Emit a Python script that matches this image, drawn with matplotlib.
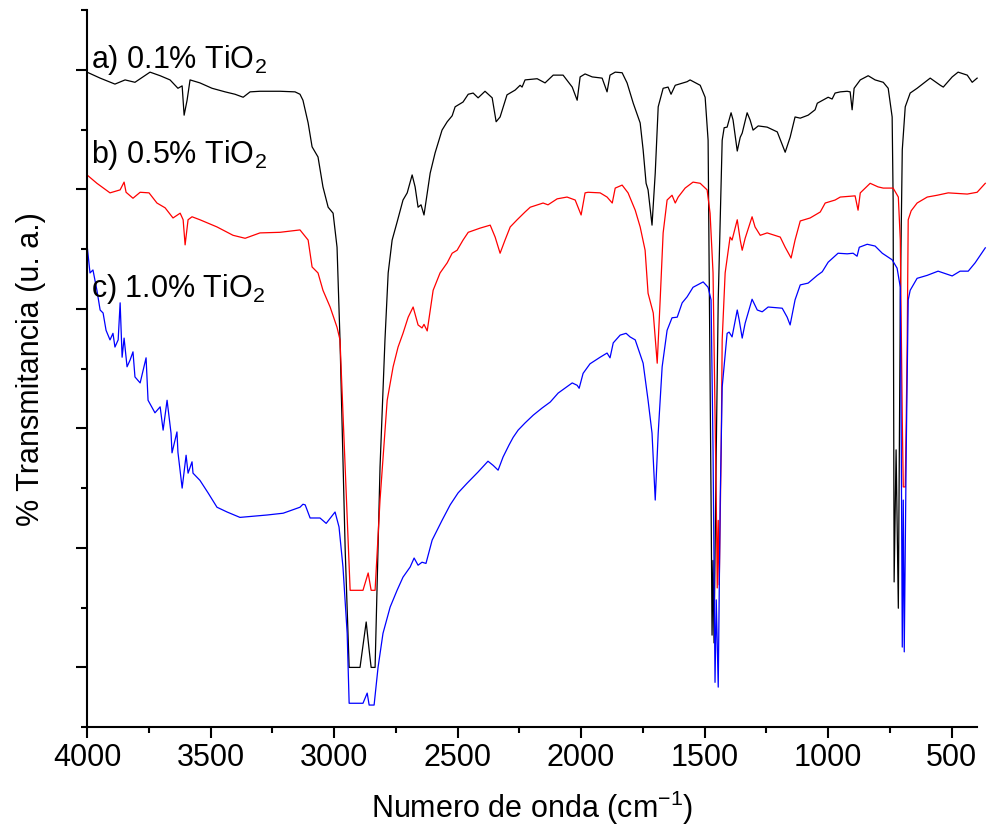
import matplotlib
matplotlib.use("Agg")
import matplotlib.pyplot as plt
from matplotlib.ticker import MultipleLocator, FixedLocator, NullFormatter

plt.rcParams['font.family'] = ['Liberation Sans', 'DejaVu Sans']
plt.rcParams['mathtext.fontset'] = 'custom'
plt.rcParams['mathtext.rm'] = 'Liberation Sans'
plt.rcParams['mathtext.it'] = 'Liberation Sans:italic'

# a) 0.1% TiO2 (black)
wn_a = [4000, 3947, 3887, 3846, 3806, 3745, 3704, 3664, 3632, 3615, 3607, 3595, 3583, 3543,
        3494, 3441, 3401, 3368, 3340, 3300, 3219, 3158, 3138, 3126, 3105, 3089, 3065, 3045,
        3024, 3004, 2988, 2976, 2955, 2939, 2895, 2870, 2858, 2850, 2834, 2814, 2794, 2781,
        2765, 2745, 2721, 2704, 2684, 2672, 2660, 2648, 2636, 2611, 2591, 2563, 2542, 2530,
        2522, 2510, 2478, 2457, 2437, 2417, 2389, 2360, 2344, 2328, 2300, 2267, 2247, 2239,
        2227, 2178, 2146, 2113, 2073, 2036, 2016, 2004, 1984, 1955, 1915, 1895, 1883, 1862,
        1834, 1814, 1789, 1761, 1749, 1737, 1729, 1713, 1700, 1688, 1668, 1648, 1636, 1619,
        1571, 1559, 1518, 1498, 1486, 1474, 1470, 1466, 1462, 1453, 1445, 1429, 1421, 1409,
        1393, 1385, 1368, 1356, 1348, 1328, 1316, 1304, 1283, 1247, 1206, 1174, 1154, 1134,
        1113, 1081, 1053, 1044, 1000, 984, 972, 951, 923, 911, 903, 895, 870, 838, 810, 777,
        757, 741, 737, 733, 725, 716, 708, 700, 688, 668, 640, 587, 546, 534, 498, 474, 437,
        417, 397]
t_a = [109.6, 108.6, 107.6, 108.3, 107.9, 109.6, 109.0, 108.3, 106.9, 107.3, 102.4, 104.9,
       108.3, 107.8, 106.9, 106.3, 105.9, 105.4, 106.3, 106.4, 106.4, 106.3, 105.9, 104.9,
       101.1, 97.1, 95.4, 90.4, 87.0, 86.0, 80.3, 64.8, 29.6, 10.0, 10.0, 17.6, 12.9, 10.0,
       10.0, 43.5, 64.8, 76.0, 81.5, 84.5, 88.2, 89.4, 92.4, 90.4, 87.0, 87.4, 85.7, 92.7,
       96.1, 99.9, 101.3, 101.9, 102.3, 103.8, 104.6, 105.9, 106.1, 105.3, 106.4, 105.3,
       101.3, 102.1, 105.8, 106.6, 107.4, 107.1, 108.3, 108.5, 107.8, 109.1, 109.1, 107.1,
       104.9, 108.8, 109.3, 108.8, 108.6, 106.3, 109.1, 109.6, 109.5, 107.8, 104.4, 101.1,
       96.6, 91.0, 89.9, 84.0, 92.7, 103.8, 106.9, 107.1, 105.9, 107.4, 108.0, 108.3, 107.4,
       105.4, 98.2, 38.0, 15.4, 27.9, 14.1, 46.4, 71.5, 98.2, 100.3, 100.4, 102.8, 101.6,
       96.4, 98.7, 99.4, 102.8, 101.6, 99.9, 100.6, 100.4, 99.6, 96.2, 98.7, 102.1, 101.9,
       102.4, 103.3, 104.4, 105.4, 105.1, 106.1, 106.3, 106.4, 106.3, 103.3, 106.9, 108.3,
       109.0, 108.3, 107.9, 106.9, 102.1, 88.2, 24.3, 46.4, 19.9, 71.5, 96.6, 103.8, 106.1,
       106.9, 108.6, 107.4, 107.1, 108.8, 109.6, 109.1, 107.9, 108.6]

# b) 0.5% TiO2 (red)
wn_b = [4000, 3960, 3907, 3866, 3850, 3842, 3814, 3785, 3749, 3717, 3684, 3652, 3623, 3611,
        3603, 3591, 3575, 3543, 3474, 3409, 3360, 3300, 3219, 3138, 3105, 3089, 3065, 3045,
        3016, 2988, 2976, 2955, 2935, 2883, 2862, 2850, 2834, 2814, 2785, 2761, 2741, 2721,
        2700, 2680, 2660, 2644, 2636, 2623, 2599, 2571, 2542, 2522, 2502, 2478, 2457, 2409,
        2368, 2348, 2328, 2308, 2287, 2259, 2227, 2206, 2154, 2134, 2097, 2057, 2024, 2000,
        1984, 1972, 1923, 1895, 1874, 1862, 1834, 1810, 1781, 1761, 1741, 1729, 1708, 1692,
        1680, 1668, 1652, 1632, 1619, 1607, 1579, 1547, 1518, 1490, 1478, 1466, 1453, 1449,
        1445, 1441, 1433, 1429, 1417, 1397, 1389, 1368, 1356, 1348, 1336, 1308, 1296, 1275,
        1247, 1194, 1174, 1150, 1134, 1113, 1073, 1032, 1012, 972, 951, 891, 879, 870, 830,
        798, 777, 737, 716, 708, 700, 696, 688, 684, 680, 676, 664, 640, 599, 559, 514, 437,
        397, 364]
t_b = [92.4, 91.0, 89.4, 89.9, 91.2, 89.5, 88.5, 89.5, 89.4, 87.7, 86.9, 85.2, 86.0, 84.9,
       80.7, 84.9, 85.4, 84.9, 83.7, 82.3, 81.8, 82.7, 82.8, 83.2, 81.5, 77.0, 76.0, 73.1,
       70.3, 66.9, 64.8, 43.5, 22.9, 22.9, 25.8, 22.9, 22.9, 38.0, 54.7, 60.3, 63.6, 65.9,
       68.6, 70.3, 67.3, 66.8, 67.4, 66.3, 73.1, 76.0, 77.7, 79.3, 79.8, 81.5, 82.8, 83.5,
       84.0, 82.0, 79.3, 81.5, 83.7, 84.9, 86.2, 87.0, 87.7, 87.4, 88.4, 88.7, 88.2, 85.7,
       89.4, 89.5, 89.4, 88.7, 87.7, 90.2, 90.7, 89.4, 86.5, 83.7, 79.8, 72.6, 69.3, 60.9,
       71.5, 82.7, 88.2, 89.0, 87.7, 88.7, 90.2, 91.2, 91.0, 89.9, 86.0, 76.0, 38.0, 23.3,
       34.6, 23.8, 46.4, 64.8, 76.0, 82.0, 81.5, 84.9, 81.5, 79.8, 81.8, 85.4, 83.7, 82.3,
       82.7, 82.0, 80.3, 78.5, 81.5, 84.7, 85.2, 86.2, 87.7, 88.2, 88.7, 88.9, 86.5, 89.4,
       91.0, 90.4, 90.2, 90.2, 88.7, 81.5, 51.4, 40.2, 40.2, 51.4, 64.8, 84.9, 86.4, 87.7,
       88.7, 89.0, 89.4, 89.2, 89.5, 91.0]

# c) 1.0% TiO2 (blue)
wn_c = [4000, 3988, 3976, 3960, 3947, 3935, 3923, 3907, 3895, 3887, 3874, 3866, 3858, 3850,
        3838, 3826, 3814, 3806, 3785, 3761, 3753, 3725, 3704, 3692, 3676, 3660, 3656, 3636,
        3632, 3615, 3599, 3591, 3575, 3571, 3543, 3510, 3474, 3433, 3381, 3271, 3206, 3138,
        3126, 3117, 3097, 3057, 3032, 2996, 2980, 2964, 2947, 2939, 2883, 2866, 2858, 2838,
        2822, 2802, 2773, 2745, 2721, 2692, 2676, 2660, 2644, 2628, 2603, 2563, 2530, 2498,
        2462, 2417, 2377, 2356, 2336, 2316, 2292, 2275, 2255, 2227, 2194, 2158, 2125, 2093,
        2036, 2016, 2008, 1992, 1964, 1923, 1895, 1883, 1870, 1842, 1818, 1802, 1781, 1749,
        1729, 1713, 1700, 1688, 1672, 1652, 1632, 1611, 1591, 1571, 1547, 1506, 1486, 1474,
        1466, 1458, 1453, 1445, 1437, 1429, 1409, 1401, 1389, 1368, 1360, 1348, 1336, 1308,
        1287, 1267, 1243, 1186, 1166, 1154, 1134, 1113, 1081, 1044, 1024, 1000, 960, 923,
        899, 883, 874, 842, 810, 781, 741, 721, 708, 704, 700, 696, 692, 684, 676, 668, 640,
        599, 555, 498, 466, 433, 405, 364]
t_c = [80.7, 76.0, 76.5, 73.1, 69.8, 69.3, 66.4, 64.8, 65.9, 63.6, 64.8, 71.0, 61.9, 65.1,
       60.3, 61.4, 62.8, 58.6, 57.6, 61.8, 54.7, 52.6, 53.6, 49.7, 54.7, 49.2, 45.9, 49.4,
       46.0, 40.0, 45.5, 42.5, 44.4, 42.5, 41.3, 39.2, 36.8, 36.0, 35.1, 35.5, 35.8, 36.8,
       37.3, 37.2, 35.0, 35.0, 34.1, 36.0, 33.5, 26.8, 15.7, 4.0, 4.0, 5.7, 3.7, 3.7, 10.0,
       15.7, 20.1, 22.9, 25.1, 26.8, 28.3, 27.1, 27.6, 27.4, 31.3, 34.6, 37.2, 39.2, 40.8,
       42.7, 44.5, 43.8, 43.0, 45.2, 47.2, 48.5, 49.7, 50.9, 52.2, 53.4, 54.4, 55.9, 57.6,
       57.2, 56.7, 59.2, 60.8, 61.9, 62.6, 61.8, 64.3, 65.6, 65.9, 65.3, 64.8, 60.9, 54.7,
       49.2, 38.0, 49.2, 60.3, 66.4, 68.5, 68.6, 71.0, 72.0, 73.6, 74.5, 73.6, 71.5, 46.4,
       7.5, 21.3, 6.7, 38.0, 56.9, 65.9, 66.1, 65.3, 69.8, 68.1, 65.1, 67.6, 71.6, 69.8,
       69.5, 70.3, 70.1, 68.6, 67.3, 71.5, 74.0, 74.3, 75.6, 76.2, 77.8, 79.3, 79.2, 79.3,
       78.8, 80.3, 80.8, 80.5, 79.3, 78.2, 76.8, 73.6, 46.4, 13.4, 38.0, 12.6, 46.4, 71.5,
       73.1, 75.1, 75.6, 76.3, 75.5, 76.3, 76.3, 77.7, 80.2]

labels = ['a) 0.1% TiO$_2$', 'b) 0.5% TiO$_2$', 'c) 1.0% TiO$_2$']
label_y = [110.3, 94.4, 72.0]

fig = plt.figure(figsize=(9.89, 8.32), dpi=100)
ax = fig.add_axes([0.088, 0.126, 0.9, 0.862])

ax.plot(wn_a, t_a, color='black', lw=0.9, clip_on=False)
ax.plot(wn_b, t_b, color='red', lw=0.9, clip_on=False)
ax.plot(wn_c, t_c, color='blue', lw=0.9, clip_on=False)

for txt, yy in zip(labels, label_y):
    ax.text(3985, yy, txt, fontsize=22, va='baseline', ha='left')

ax.set_xlim(4000, 397)
ax.set_ylim(0, 120)

ax.spines['top'].set_visible(False)
ax.spines['right'].set_visible(False)
ax.spines['left'].set_linewidth(1.5)
ax.spines['bottom'].set_linewidth(1.5)

ax.xaxis.set_major_locator(MultipleLocator(500))
ax.xaxis.set_minor_locator(MultipleLocator(250))
ax.yaxis.set_major_locator(FixedLocator([10, 30, 50, 70, 90, 110]))
ax.yaxis.set_minor_locator(FixedLocator([0, 20, 40, 60, 80, 100, 120]))
ax.yaxis.set_major_formatter(NullFormatter())

ax.tick_params(which='major', direction='out', length=8, width=1.5, labelsize=22)
ax.tick_params(which='minor', direction='out', length=4, width=1.5)

ax.set_xlabel('Numero de onda (cm$^{-1}$)', fontsize=22, labelpad=11)
ax.set_ylabel('% Transmitancia (u. a.)', fontsize=22, labelpad=18)

fig.savefig('out.png', dpi=100)
